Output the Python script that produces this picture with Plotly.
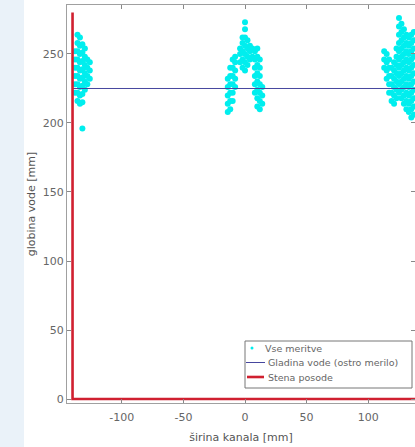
import plotly.graph_objects as go

# --- data (mm) ---
# measured points, grouped by x position (mm): list of depths (mm)
cluster_left = {
    -138: [222, 228, 234, 240, 246, 252],
    -136: [216, 222, 228, 234, 240, 246, 252, 258, 264],
    -134: [214, 220, 226, 232, 238, 244, 250, 256, 262],
    -132: [196, 215, 221, 227, 233, 239, 245, 251, 257],
    -130: [224, 230, 236, 242, 248, 254],
    -128: [228, 234, 240, 246],
    -126: [232, 238, 244],
}
cluster_mid = {
    -14: [208, 214, 220, 226, 232],
    -12: [210, 216, 222, 228, 234, 240],
    -10: [216, 222, 228, 234, 240, 246],
    -8: [226, 232, 238, 244, 248],
    -4: [244, 250, 254],
    -2: [240, 246, 252, 258, 262],
    0: [238, 244, 250, 256, 262, 268, 273],
    2: [242, 248, 254, 260],
    4: [246, 252, 256],
    6: [248, 254],
    8: [222, 228, 234, 240, 246, 252],
    10: [212, 218, 224, 230, 236, 242, 248, 254],
    12: [210, 216, 222, 228, 234, 240, 246],
    14: [214, 220, 226],
}
cluster_right = {
    113: [240, 246, 252],
    115: [232, 238, 244, 250],
    117: [222, 228, 234, 240, 246],
    119: [216, 222, 228, 234, 240],
    121: [214, 220, 226, 232, 238, 244],
    123: [218, 224, 230, 236, 242, 248, 254],
    125: [222, 228, 234, 240, 246, 252, 258, 264, 270, 276],
    127: [218, 224, 230, 236, 242, 248, 254, 260, 266, 272],
    129: [214, 220, 226, 232, 238, 244, 250, 256, 262, 268],
    131: [210, 216, 222, 228, 234, 240, 246, 252, 258, 264],
    133: [208, 214, 220, 226, 232, 238, 244, 250, 256, 262],
    135: [204, 210, 216, 222, 228, 234, 240, 246, 252, 258, 264],
    137: [206, 212, 218, 224, 230, 236, 242, 248, 254, 260, 266],
}
water_x = [-140, 140]
water_y = [225, 225]
wall_x = [-140, -140, 140, 140]
wall_y = [280, 0, 0, 280]
x_ticks = [-100, -50, 0, 50, 100]
x_tick_labels = ["-100", "-50", "0", "50", "100"]
y_ticks = [0, 50, 100, 150, 200, 250]
names = ["Vse meritve", "Gladina vode (ostro merilo)", "Stena posode"]

meas_x, meas_y = [], []
for cl in (cluster_left, cluster_mid, cluster_right):
    for xv, ys in cl.items():
        for yv in ys:
            meas_x.append(xv)
            meas_y.append(yv)

FONT = "DejaVu Sans, Liberation Sans, sans-serif"
CYAN = "#00eeee"
BLUE = "#46469e"
RED = "#d02030"

fig = go.Figure()
fig.add_trace(go.Scatter(
    x=meas_x, y=meas_y, mode="markers", name=names[0],
    marker=dict(color=CYAN, size=6, line=dict(width=0)),
))
fig.add_trace(go.Scatter(
    x=water_x, y=water_y, mode="lines", name=names[1],
    line=dict(color=BLUE, width=1),
))
fig.add_trace(go.Scatter(
    x=wall_x, y=wall_y, mode="lines", name=names[2],
    line=dict(color=RED, width=2.6),
))

W, H = 415, 447
L, R, T, B = 67, 0, 5, 44
pw = W - L - R
ph = H - T - B


def px(xp):
    return (xp - L) / pw


def py(yp):
    return (H - B - yp) / ph


shapes = [
    dict(type="rect", xref="paper", yref="paper", layer="below",
         x0=px(24), x1=1.05, y0=py(H + 5), y1=py(-5),
         fillcolor="white", line=dict(width=0)),
    # legend box
    dict(type="rect", xref="paper", yref="paper",
         x0=px(245), x1=px(412), y0=py(388), y1=py(341),
         fillcolor="white", line=dict(color="#777777", width=1)),
    dict(type="circle", xref="paper", yref="paper",
         x0=px(250.5), x1=px(253.5), y0=py(349.5), y1=py(346.5),
         fillcolor=CYAN, line=dict(width=0)),
    dict(type="line", xref="paper", yref="paper",
         x0=px(246), x1=px(265), y0=py(362.5), y1=py(362.5),
         line=dict(color=BLUE, width=1)),
    dict(type="line", xref="paper", yref="paper",
         x0=px(247), x1=px(264), y0=py(377), y1=py(377),
         line=dict(color=RED, width=2.6)),
]
annotations = []
for name, xp, yp in zip(names, [263, 266, 266], [348, 362.5, 377]):
    annotations.append(dict(
        text=name, xref="paper", yref="paper", x=px(xp), y=py(yp),
        xanchor="left", yanchor="middle", showarrow=False,
        font=dict(family=FONT, size=9.5, color="#666666"),
    ))

fig.update_layout(
    width=W, height=H,
    margin=dict(l=L, r=R, t=T, b=B),
    paper_bgcolor="#eaf2f9",
    plot_bgcolor="white",
    font=dict(family=FONT, size=11, color="#666666"),
    showlegend=False,
    shapes=shapes,
    annotations=annotations,
)
fig.update_xaxes(
    range=[-144.5, 138], tickvals=x_ticks, ticktext=x_tick_labels,
    ticks="inside", ticklen=4, ticklabelstandoff=4,
    tickcolor="#888888", showline=True, linecolor="#a0a0a0", linewidth=1,
    mirror="ticks", showgrid=False, zeroline=False,
    title=dict(text="širina kanala [mm]", standoff=10, font=dict(size=11, color="#555555")),
)
fig.update_yaxes(
    range=[-2.9, 285.5], tickvals=y_ticks, ticks="inside", ticklen=4,
    tickcolor="#888888", showline=True, linecolor="#a0a0a0", linewidth=1,
    mirror="ticks", showgrid=False, zeroline=False,
    title=dict(text="globina vode [mm]", standoff=4, font=dict(size=11, color="#555555")),
)

fig.write_html("out.html")
